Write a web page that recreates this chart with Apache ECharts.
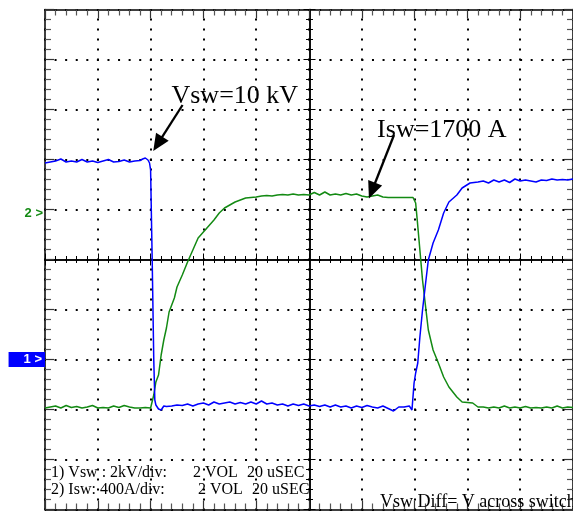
<!DOCTYPE html>
<html><head><meta charset="utf-8">
<script src="https://cdn.jsdelivr.net/npm/echarts@6/dist/echarts.min.js"></script>
<style>html,body{margin:0;padding:0;background:#fff}#c{width:573px;height:512px}</style>
</head><body><div id="c"></div>
<script>
// Time axis: 20 uSEC per division, 10 divisions
const timeMin = 0, timeMax = 200, timePerDiv = 20;
// Vertical axis in screen divisions (10 divisions, centre = 0)
const divMin = -5, divMax = 5;
// Channel ground markers (in divisions)
const ch1Level = -2, ch2Level = 1;

// Channel 1: Vsw (2 kV/div), blue
const vswTime = [0,2,4,6,8,10,12,14,16,18,20,22,24,26,28,30,32,34,36,37,38,39,39.6,40,40.6,41.2,41.6,42,43,44,45,46,
  48,50,52,54,56,58,60,62,64,66,68,70,72,74,76,78,80,82,84,86,88,90,92,94,96,98,100,102,104,106,108,110,112,114,116,118,
  120,122,124,126,128,130,132,134,136,138,139,139.8,140.4,141.2,142,143,144,145.2,147,149,151,153,156,158,161,164,
  166,168,170,172,174,176,178,180,182,184,186,188,190,192,194,196,198,200];
const vswDiv = [1.93,1.95,1.97,2.01,1.95,1.97,1.95,2.00,1.95,1.97,1.94,1.97,2.00,1.95,1.96,1.99,1.95,1.97,1.98,2.01,2.03,1.99,1.93,1.79,0.00,-2.01,-2.81,-2.91,-2.99,-3.01,-2.93,-2.94,
  -2.93,-2.91,-2.92,-2.89,-2.93,-2.89,-2.87,-2.91,-2.85,-2.89,-2.87,-2.85,-2.89,-2.86,-2.89,-2.85,-2.89,-2.83,-2.89,-2.87,-2.91,-2.89,-2.93,-2.89,-2.92,-2.89,-2.93,-2.91,-2.94,-2.91,-2.95,-2.91,-2.95,-2.93,-2.97,-2.93,
  -2.96,-2.92,-2.95,-2.97,-2.93,-2.98,-3.03,-2.95,-2.95,-2.93,-3.01,-2.47,-2.27,-2.07,-1.55,-1.01,-0.55,-0.01,0.33,0.59,0.93,1.15,1.29,1.43,1.53,1.55,
  1.57,1.53,1.59,1.55,1.59,1.54,1.61,1.57,1.59,1.57,1.55,1.59,1.58,1.61,1.59,1.60,1.59,1.61];

// Channel 2: Isw (400 A/div), green
const iswTime = [0,2,4,6,8,10,12,14,16,18,20,22,24,26,28,30,32,34,36,38,40,40.6,41.2,42,43,44,45,46,47,48,49,50,52,54,56,58,
  60,62,64,66,68,70,72,74,76,78,80,82,84,86,88,90,92,94,96,98,100,102,104,106,108,110,112,114,116,118,120,122,124,126,128,
  130,132,134,136,138,139.4,140.4,141,142,143,144,145.2,147,149,151,153,156,158,162,164,166,168,170,172,174,176,178,180,
  182,184,186,188,190,192,194,196,198,200];
const iswDiv = [-2.97,-2.95,-2.93,-2.97,-2.92,-2.96,-2.94,-2.97,-2.95,-2.92,-2.97,-2.96,-2.97,-2.93,-2.96,-2.92,-2.95,-2.97,-2.97,-2.96,-2.97,-2.97,-2.71,-2.45,-2.31,-1.91,-1.61,-1.37,-1.05,-0.91,-0.77,-0.55,-0.31,-0.05,0.19,0.43,
  0.55,0.67,0.79,0.93,1.03,1.09,1.15,1.19,1.23,1.24,1.25,1.27,1.28,1.27,1.29,1.30,1.29,1.31,1.29,1.30,1.29,1.34,1.29,1.35,1.29,1.31,1.29,1.32,1.29,1.31,1.27,1.25,1.27,1.29,1.25,
  1.24,1.24,1.24,1.24,1.24,1.24,1.13,0.79,0.19,-0.41,-0.87,-1.41,-1.81,-2.07,-2.35,-2.55,-2.75,-2.85,-2.87,-2.95,-2.95,-2.97,-2.95,-2.97,-2.93,-2.97,-2.95,-2.97,
  -2.94,-2.97,-2.96,-2.97,-2.95,-2.97,-2.93,-2.97,-2.95,-2.96];

// Annotations (data coordinates: time us, divisions)
const annoText = ['Vsw=10 kV', 'Isw=1700 A'];
const annoTextAt = [[47.9, 3.26], [125.8, 2.59]];
const arrowTail = [[52.1, 3.09], [132.2, 2.49]];
const arrowTip = [[41.0, 2.17], [122.7, 1.22]];

const captionLines = [
  ['1) Vsw : 2kV/div:', '2 VOL', '20 uSEC'],
  ['2) Isw: 400A/div:', '2 VOL', '20 uSEC']
];
const footnote = 'Vsw Diff= V across switch';
const chLabels = {'-2': '1 >', '1': '2 >'};

const zip = (a, b) => a.map((v, i) => [v, b[i]]);

const dotV = {show: true, lineStyle: {color: '#000', width: 2, type: [2, 8], dashOffset: 1}};
const dotH = {show: true, lineStyle: {color: '#000', width: 2, type: [2, 8.58], dashOffset: 1}};

function xAx(extra) {
  return Object.assign({
    type: 'value', min: timeMin, max: timeMax, interval: timePerDiv,
    axisLabel: {show: false}, splitLine: {show: false},
    axisLine: {show: true, onZero: false, lineStyle: {color: '#000', width: 1.5}}
  }, extra);
}
function yAx(extra) {
  return Object.assign({
    type: 'value', min: divMin, max: divMax, interval: 1,
    axisLabel: {show: false}, splitLine: {show: false},
    axisLine: {show: true, onZero: false, lineStyle: {color: '#000', width: 1.5}}
  }, extra);
}
const frameTick = {show: true, inside: true, length: 9, lineStyle: {color: '#333', width: 1.2}};
const frameMinor = {show: true, splitNumber: 5, length: 6, lineStyle: {color: '#555', width: 1.2}};
const cIn = {show: true, inside: true, length: 6, lineStyle: {color: '#000', width: 1}};
const cOut = {show: true, inside: false, length: 6, lineStyle: {color: '#000', width: 1}};
const cMinor = {show: true, splitNumber: 5, length: 3.5, lineStyle: {color: '#000', width: 1}};

const option = {
  animation: false,
  backgroundColor: '#fff',
  grid: {left: 45, top: 9.5, width: 529, height: 500, containLabel: false},
  xAxis: [
    xAx({position: 'bottom', axisTick: frameTick, minorTick: frameMinor, splitLine: dotV}),
    xAx({position: 'top', axisTick: frameTick, minorTick: frameMinor}),
    xAx({position: 'bottom', offset: -250, axisTick: cIn, minorTick: cMinor}),
    xAx({position: 'bottom', offset: -250, axisTick: cOut, minorTick: cMinor})
  ],
  yAxis: [
    yAx({position: 'left', axisTick: frameTick, minorTick: frameMinor, splitLine: dotH,
      axisLabel: {
        show: true, margin: 0,
        formatter: v => {
          const s = chLabels[String(v)];
          if (!s) return '';
          return v === ch1Level ? '{one|' + s + '}' : '{two|' + s + '}';
        },
        rich: {
          one: {backgroundColor: '#0000ff', color: '#fff', fontSize: 13, fontWeight: 'bold',
                fontFamily: 'Liberation Sans', lineHeight: 14, padding: [1, 3, 1, 15]},
          two: {color: '#138a13', fontSize: 13, fontWeight: 'bold', fontFamily: 'Liberation Sans',
                lineHeight: 13, padding: [7, 2, 0, 0]}
        }
      }}),
    yAx({position: 'right', axisTick: frameTick, minorTick: frameMinor}),
    yAx({position: 'left', offset: -264.5, axisTick: cIn, minorTick: cMinor}),
    yAx({position: 'left', offset: -264.5, axisTick: cOut, minorTick: cMinor})
  ],
  series: [
    {type: 'line', name: 'Isw', xAxisIndex: 0, yAxisIndex: 0, data: zip(iswTime, iswDiv),
     showSymbol: false, lineStyle: {color: '#138a13', width: 1.5}, z: 3},
    {type: 'line', name: 'Vsw', xAxisIndex: 0, yAxisIndex: 0, data: zip(vswTime, vswDiv),
     showSymbol: false, lineStyle: {color: '#0000ff', width: 1.5}, z: 4}
  ]
};

const chart = echarts.init(document.getElementById('c'), null, {renderer: 'canvas', width: 573, height: 512});
chart.setOption(option);

const p = (t, v) => chart.convertToPixel({xAxisIndex: 0, yAxisIndex: 0}, [t, v]);
function arrow(tail, tip) {
  const a = p(tail[0], tail[1]), b = p(tip[0], tip[1]);
  const dx = b[0] - a[0], dy = b[1] - a[1];
  const L = Math.hypot(dx, dy), ux = dx / L, uy = dy / L;
  const hl = 17, hw = 7.5;
  const bx = b[0] - ux * hl, by = b[1] - uy * hl;
  return [
    {type: 'line', z: 10, shape: {x1: a[0], y1: a[1], x2: bx + ux * 3, y2: by + uy * 3},
     style: {stroke: '#000', lineWidth: 2.3}},
    {type: 'polygon', z: 10, shape: {points: [[b[0], b[1]], [bx - uy * hw, by + ux * hw], [bx + uy * hw, by - ux * hw]]},
     style: {fill: '#000'}}
  ];
}
const g = [];
annoText.forEach((txt, i) => {
  const q = p(annoTextAt[i][0], annoTextAt[i][1]);
  g.push({type: 'text', z: 10, x: q[0], y: q[1],
    style: {text: txt, font: '26px "Liberation Serif"', fill: '#000', align: 'left', verticalAlign: 'middle'}});
  g.push(...arrow(arrowTail[i], arrowTip[i]));
});
const capX = [[51, 193, 247], [51, 198, 252]];
const capY = [472.5, 490];
captionLines.forEach((line, r) => {
  line.forEach((txt, k) => {
    g.push({type: 'text', z: 10, x: capX[r][k], y: capY[r],
      style: {text: txt, font: '16px "Liberation Serif"', fill: '#000', align: 'left', verticalAlign: 'middle'}});
  });
});
g.push({type: 'text', z: 10, x: 380, y: 502,
  style: {text: footnote, font: '18px "Liberation Serif"', fill: '#000', align: 'left', verticalAlign: 'middle'}});
chart.setOption({graphic: g});
</script>
</body></html>
